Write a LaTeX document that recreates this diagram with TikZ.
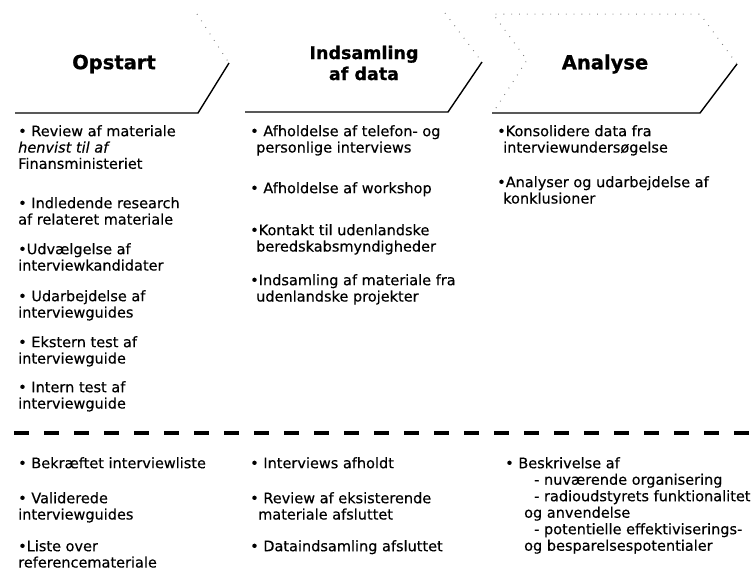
\documentclass[tikz,border=0pt]{standalone}
\usepackage{fontspec}
\setmainfont{DejaVu Sans}[FakeBold=0.35]
\newfontfamily\hfont{DejaVu Sans}[FakeBold=0.8]
\begin{document}
\begin{tikzpicture}[x=1pt,y=-1pt,
  item/.style={anchor=north west,inner sep=0pt,align=left,
    font=\fontsize{14.5}{16.3}\selectfont},
  head/.style={inner sep=0pt,align=center,font=\hfont\bfseries\fontsize{19.5}{22}\selectfont},
  headsm/.style={inner sep=0pt,align=center,font=\hfont\bfseries\fontsize{17.5}{21}\selectfont},
  rule/.style={line width=1.4pt},
  scan/.style={gray,line width=1pt,dash pattern=on 0.8pt off 7pt},
  sep/.style={line width=4.5pt,dash pattern=on 15pt off 15pt}]
\useasboundingbox (0,0) rectangle (753,574);
% header shapes
\coordinate (o1) at (15,113); \coordinate (o2) at (198,113); \coordinate (o3) at (229,63);
\coordinate (i1) at (245,112); \coordinate (i2) at (448,112); \coordinate (i3) at (482,62);
\coordinate (a1) at (492,113); \coordinate (a2) at (700,113); \coordinate (a3) at (737,64);
\draw[rule] (o1) -- (o2) -- (o3);
\draw[rule] (i1) -- (i2) -- (i3);
\draw[rule] (a1) -- (a2) -- (a3);
% faint scan traces of chevron outlines
\coordinate (s1) at (197,14); \coordinate (s2) at (445,13); \coordinate (s3) at (493,14);
\coordinate (s4) at (527,60); \coordinate (s5) at (496,108); \coordinate (s6) at (700,14);
\draw[scan] (s1) -- (o3);
\draw[scan] (s2) -- (i3);
\draw[scan] (s5) -- (s4) -- (s3) -- (s6) -- (a3);
% headers
\node[head] (h1) at (114,64) {Opstart};
\node[headsm] (h2) at (364,63) {Indsamling\\af data};
\node[head] (h3) at (605,64) {Analyse};
% column 1
\node[item] (c1a) at (18,125) {• Review af materiale\\\textit{henvist til af}\\Finansministeriet};
\node[item] (c1b) at (18,197) {• Indledende research\\af relateret materiale};
\node[item] (c1c) at (18,243) {•Udvælgelse af\\interviewkandidater};
\node[item] (c1d) at (18,290) {• Udarbejdelse af\\interviewguides};
\node[item] (c1e) at (18,336) {• Ekstern test af\\interviewguide};
\node[item] (c1f) at (18,381) {• Intern test af\\interviewguide};
% column 2
\node[item] (c2a) at (250,125) {• Afholdelse af telefon- og\\\hspace*{6pt}personlige interviews};
\node[item] (c2b) at (250,182) {• Afholdelse af workshop};
\node[item] (c2c) at (250,224) {•Kontakt til udenlandske\\\hspace*{6pt}beredskabsmyndigheder};
\node[item] (c2d) at (250,274) {•Indsamling af materiale fra\\\hspace*{6pt}udenlandske projekter};
% column 3
\node[item] (c3a) at (497,125) {•Konsolidere data fra\\\hspace*{6pt}interviewundersøgelse};
\node[item] (c3b) at (497,176) {•Analyser og udarbejdelse af\\\hspace*{6pt}konklusioner};
% separator
\coordinate (d1) at (14,433); \coordinate (d2) at (753,433);
\draw[sep] (d1) -- (d2);
% results
\node[item] (r1a) at (18,457) {• Bekræftet interviewliste};
\node[item] (r1b) at (18,492) {• Validerede\\interviewguides};
\node[item] (r1c) at (18,540) {•Liste over\\referencemateriale};
\node[item] (r2a) at (250,457) {• Interviews afholdt};
\node[item] (r2b) at (250,492) {• Review af eksisterende\\\hspace*{8pt}materiale afsluttet};
\node[item] (r2c) at (250,540) {• Dataindsamling afsluttet};
\node[item,font=\fontsize{14.5}{16.5}\selectfont] (r3a) at (505,457) {• Beskrivelse af\\
 \hspace*{29pt}- nuværende organisering\\
 \hspace*{29pt}- radioudstyrets funktionalitet\\
 \hspace*{19pt}og anvendelse\\
 \hspace*{29pt}- potentielle effektiviserings-\\
 \hspace*{19pt}og besparelsespotentialer};
\end{tikzpicture}
\end{document}
